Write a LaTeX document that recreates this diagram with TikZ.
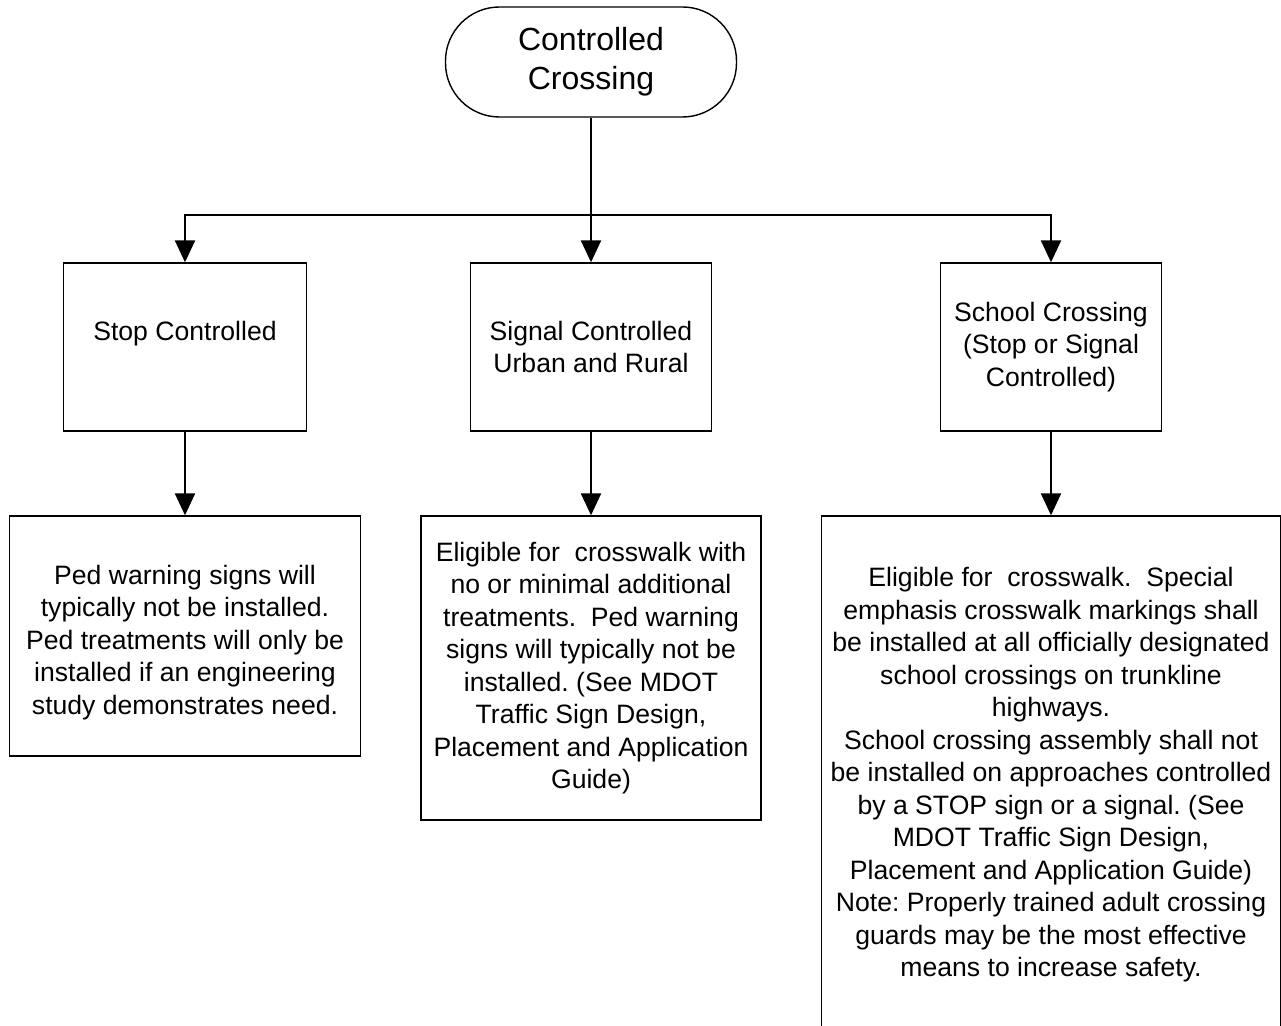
\documentclass[tikz,border=0pt]{standalone}
\usepackage{fontspec}
\setmainfont{Liberation Sans}
\frenchspacing
\usetikzlibrary{arrows.meta}
\begin{document}
\begin{tikzpicture}[x=0.5pt,y=-0.5pt,
  box/.style={draw,line width=0.7pt,align=center,inner sep=0pt,font=\fontsize{13.3}{16.25}\selectfont},
  arr/.style={line width=1.2pt,-{Triangle[width=10pt,length=11pt]}}]
\useasboundingbox (0,0) rectangle (1281,1026);
\node[box,rounded corners=27pt,minimum width=145.5pt,minimum height=55pt,font=\fontsize{16}{19.5}\selectfont] (start) at (591,62) {Controlled\\Crossing};
\node[box,minimum width=121.5pt,minimum height=84pt] (stop) at (185,347) {Stop Controlled\\\mbox{}};
\node[box,minimum width=120.5pt,minimum height=84pt] (signal) at (591,347) {Signal Controlled\\Urban and Rural};
\node[box,minimum width=110.5pt,minimum height=84pt] (school) at (1051,347) {School Crossing\\(Stop or Signal\\Controlled)};
\node[box,minimum width=175.5pt,minimum height=120pt] (ped) at (185,636) {\mbox{}\\Ped warning signs will\\typically not be installed.\\Ped treatments will only be\\installed if an engineering\\study demonstrates need.};
\node[box,minimum width=170pt,minimum height=152pt] (eligible) at (591,668) {Eligible for~ crosswalk with\\no or minimal additional\\treatments.~ Ped warning\\signs will typically not be\\installed. (See MDOT\\Traffic Sign Design,\\Placement and Application\\Guide)};
\node[box,minimum width=229.5pt,minimum height=259pt] (special) at (1051,775) {Eligible for~ crosswalk.~ Special\\emphasis crosswalk markings shall\\be installed at all officially designated\\school crossings on trunkline\\highways.\\School crossing assembly shall not\\be installed on approaches controlled\\by a STOP sign or a signal. (See\\MDOT Traffic Sign Design,\\Placement and Application Guide)\\Note: Properly trained adult crossing\\guards may be the most effective\\means to increase safety.};
\coordinate (split) at (591,215);
\draw[arr] (start) -- (signal);
\draw[arr] (split) -| (stop);\draw[arr] (split) -| (school);
\draw[arr] (stop) -- (ped);\draw[arr] (signal) -- (eligible);\draw[arr] (school) -- (special);
\end{tikzpicture}
\end{document}
